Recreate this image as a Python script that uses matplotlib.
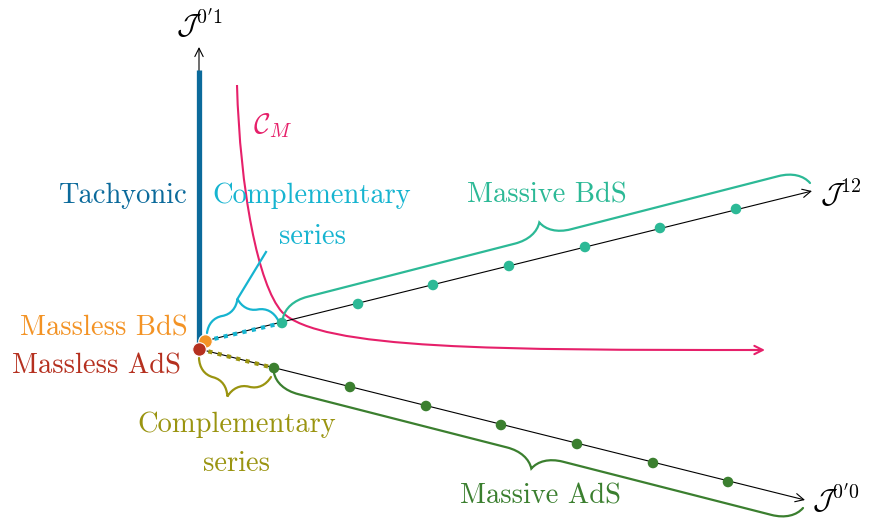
import numpy as np
import matplotlib
matplotlib.use("Agg")
import matplotlib.pyplot as plt
from matplotlib.path import Path
from matplotlib.patches import PathPatch

plt.rcParams['font.family'] = 'serif'
plt.rcParams['font.serif'] = ['cmr10', 'DejaVu Serif']
plt.rcParams['mathtext.fontset'] = 'cm'
plt.rcParams['axes.unicode_minus'] = False

# colours
c_teal = '#2cb996'
c_green = '#3b7f2f'
c_orange = '#f39325'
c_red = '#b5301f'
c_blue = '#0b6a9b'
c_cyan = '#16b4d0'
c_olive = '#9a9410'
c_mag = '#e6206a'

# diagram data (pixel frame of the picture, y downwards)
origin = (199, 349)
massless_bds = (205, 341)
j12_end = (812, 191)
j00_end = (805, 500)
j01_end = (199, 47)
tachyonic_top = 70

bds_x = [282, 358, 433, 509, 585, 660, 736]
bds_y = [323, 304, 285, 266, 247, 228, 209]
ads_x = [274, 350, 426, 501, 577, 653, 728]
ads_y = [368, 387, 406, 425, 444, 463, 482]

# magenta curve C_M control points (two cubic pieces)
cm_ctrl = [(237, 85), (240, 190), (258, 285), (282, 312),
           (320, 350), (500, 350), (765, 350)]

fig = plt.figure(figsize=(8.73, 5.19), dpi=100)
ax = fig.add_axes([0, 0, 1, 1])
ax.set_xlim(0, 873)
ax.set_ylim(519, 0)
ax.axis('off')

FS = 20.5


def arrow(p0, p1, color='black', lw=0.8, z=2):
    ax.annotate('', xy=p1, xytext=p0,
                arrowprops=dict(arrowstyle='->', color=color, lw=lw,
                                shrinkA=0, shrinkB=0, mutation_scale=15),
                zorder=z)


def brace(p0, p1, a, color, lw=1.6):
    p0 = np.array(p0, float)
    p1 = np.array(p1, float)
    L = np.linalg.norm(p1 - p0)
    u = (p1 - p0) / L
    n = np.array([u[1], -u[0]])
    h = L / 2
    b = min(abs(a), L / 4)
    loc = [(0, 0), (.15*b, .3*a), (.5*b, .5*a), (b, .5*a),
           (h - b, .5*a),
           (h - .5*b, .5*a), (h - .15*b, .7*a), (h, a),
           (h + .15*b, .7*a), (h + .5*b, .5*a), (h + b, .5*a),
           (L - b, .5*a),
           (L - .5*b, .5*a), (L - .15*b, .3*a), (L, 0)]
    codes = [Path.MOVETO, Path.CURVE4, Path.CURVE4, Path.CURVE4,
             Path.LINETO,
             Path.CURVE4, Path.CURVE4, Path.CURVE4,
             Path.CURVE4, Path.CURVE4, Path.CURVE4,
             Path.LINETO,
             Path.CURVE4, Path.CURVE4, Path.CURVE4]
    pts = [p0 + s*u + t*n for s, t in loc]
    ax.add_patch(PathPatch(Path(pts, codes), fill=False, edgecolor=color,
                           lw=lw, capstyle='round'))
    return p0 + h*u + a*n


# axes
arrow(massless_bds, j12_end)
arrow(origin, j00_end)
arrow(origin, j01_end)
ax.plot([origin[0], origin[0]], [origin[1], tachyonic_top], color=c_blue,
        lw=3.8, solid_capstyle='butt', zorder=3)

# complementary series segments
ax.plot([massless_bds[0], bds_x[0]], [massless_bds[1], bds_y[0]],
        color=c_cyan, lw=3, ls=(0, (1, 1.3)), zorder=3)
ax.plot([origin[0], ads_x[0]], [origin[1], ads_y[0]],
        color=c_olive, lw=3, ls=(0, (1, 1.3)), zorder=3)

# magenta curve
cm_codes = [Path.MOVETO] + [Path.CURVE4]*6
ax.add_patch(PathPatch(Path(cm_ctrl[:-1] + [(758, 350)], cm_codes), fill=False,
                       edgecolor=c_mag, lw=1.5))
arrow((750, 350), cm_ctrl[-1], color=c_mag, lw=1.5)

# braces
brace((283, 318), (810, 183), 29, c_teal)
brace((803, 508), (274, 373), 29, c_green)
tip = brace((207, 333), (278, 320), 28, c_cyan)
ax.plot([tip[0], 266], [tip[1], 252], color=c_cyan, lw=1.6)
brace((271, 377), (199, 358), 30, c_olive)

# points
ax.scatter(bds_x, bds_y, s=58, color=c_teal, zorder=5, edgecolors='none')
ax.scatter(ads_x, ads_y, s=58, color=c_green, zorder=5, edgecolors='none')
ax.scatter([massless_bds[0]], [massless_bds[1]], s=95, color=c_orange,
           zorder=6, edgecolors='white', linewidths=0.8)
ax.scatter([origin[0]], [origin[1]], s=95, color=c_red, zorder=7,
           edgecolors='white', linewidths=0.8)

# labels
ax.text(199, 24, r"$\mathcal{J}^{0'1}$", fontsize=FS, ha='center', va='center')
ax.text(820, 194, r"$\mathcal{J}^{12}$", fontsize=FS, ha='left', va='center')
ax.text(812, 499, r"$\mathcal{J}^{0'0}$", fontsize=FS, ha='left', va='center')
ax.text(253, 126, r"$\mathcal{C}_M$", fontsize=FS, ha='left', va='center',
        color=c_mag)
ax.text(187, 196, "Tachyonic", fontsize=FS, ha='right', va='center',
        color=c_blue)
ax.text(312, 196, "Complementary", fontsize=FS, ha='center', va='center',
        color=c_cyan)
ax.text(312, 237, "series", fontsize=FS, ha='center', va='center',
        color=c_cyan)
ax.text(547, 195, "Massive BdS", fontsize=FS, ha='center', va='center',
        color=c_teal)
ax.text(188, 328, "Massless BdS", fontsize=FS, ha='right', va='center',
        color=c_orange)
ax.text(181, 366, "Massless AdS", fontsize=FS, ha='right', va='center',
        color=c_red)
ax.text(237, 425, "Complementary", fontsize=FS, ha='center', va='center',
        color=c_olive)
ax.text(237, 464, "series", fontsize=FS, ha='center', va='center',
        color=c_olive)
ax.text(540, 496, "Massive AdS", fontsize=FS, ha='center', va='center',
        color=c_green)

fig.savefig('out.png', dpi=100)
